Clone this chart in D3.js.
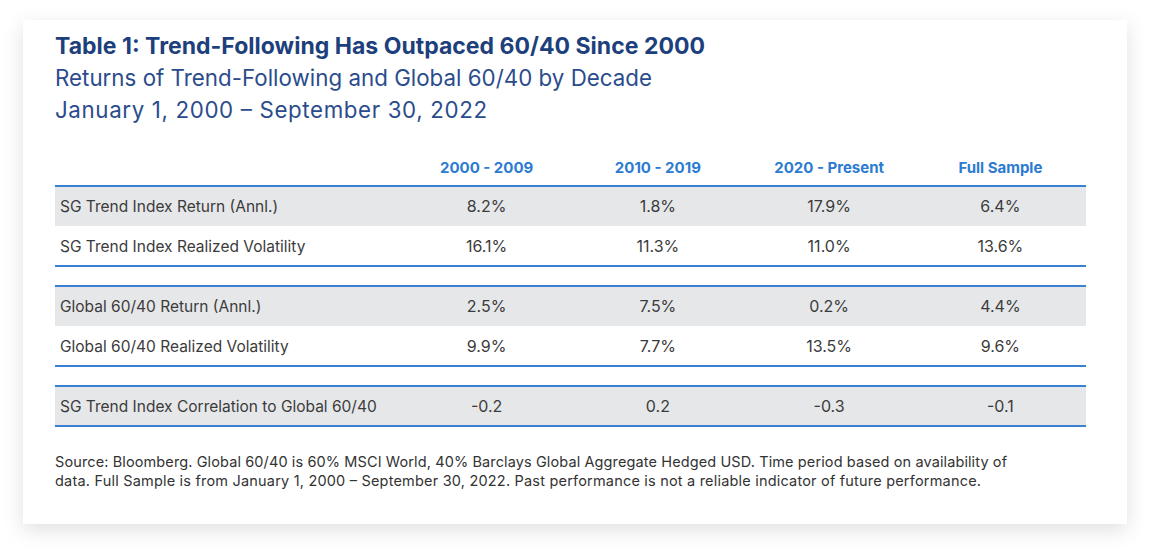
<!DOCTYPE html>
<html><head><meta charset="utf-8">
<script src="https://cdn.jsdelivr.net/npm/d3@7"></script>
<style>
html,body{margin:0;padding:0;background:#ffffff;}
svg{display:block;}
</style></head>
<body>
<div id="chart"></div>
<script>
const titleText = "Table 1: Trend-Following Has Outpaced 60/40 Since 2000";
const subtitleLines = ["Returns of Trend-Following and Global 60/40 by Decade", "January 1, 2000 \u2013 September 30, 2022"];
const columns = ["2000 - 2009", "2010 - 2019", "2020 - Present", "Full Sample"];
const groupA = ["SG Trend Index Return (Annl.)", "SG Trend Index Realized Volatility"];
const groupAValues = [["8.2%", "1.8%", "17.9%", "6.4%"], ["16.1%", "11.3%", "11.0%", "13.6%"]];
const groupB = ["Global 60/40 Return (Annl.)", "Global 60/40 Realized Volatility"];
const groupBValues = [["2.5%", "7.5%", "0.2%", "4.4%"], ["9.9%", "7.7%", "13.5%", "9.6%"]];
const groupC = ["SG Trend Index Correlation to Global 60/40"];
const groupCValues = [["-0.2", "0.2", "-0.3", "-0.1"]];
const footnoteLines = [
  "Source: Bloomberg. Global 60/40 is 60% MSCI World, 40% Barclays Global Aggregate Hedged USD. Time period based on availability of",
  "data. Full Sample is from January 1, 2000 \u2013 September 30, 2022. Past performance is not a reliable indicator of future performance."
];

const W = 1162, H = 559;
const FONT = "Inter, 'Open Sans', sans-serif";
const svg = d3.select("#chart").append("svg").attr("width", W).attr("height", H);

const defs = svg.append("defs");
const f = defs.append("filter").attr("id", "shadow").attr("x", "-10%").attr("y", "-10%").attr("width", "120%").attr("height", "125%");
f.append("feDropShadow").attr("dx", 0).attr("dy", 6).attr("stdDeviation", 10).attr("flood-color", "#000").attr("flood-opacity", 0.12);

// card
svg.append("rect").attr("x", 23).attr("y", 20).attr("width", 1104).attr("height", 504)
  .attr("fill", "#fff").attr("filter", "url(#shadow)");

// fit helper: stretch text spacing to the reference widths
function fit(sel, widths) {
  sel.each(function(d, i) {
    const w = widths[i];
    if (w && this.getComputedTextLength() < w) {
      d3.select(this).attr("textLength", w).attr("lengthAdjust", "spacing");
    }
  });
}

// titles
svg.append("text").attr("x", 55).attr("y", 54).text(titleText)
  .attr("font-family", FONT).attr("font-weight", 700).attr("font-size", 23).attr("fill", "#1d3f7c")
  .call(fit, [650]);
svg.selectAll("text.sub").data(subtitleLines).join("text").attr("class", "sub")
  .attr("x", 55).attr("y", (d, i) => 86 + i * 32).text(d => d)
  .attr("font-family", FONT).attr("font-weight", 400).attr("font-size", 22.3).attr("fill", "#2b4c8c")
  .call(fit, [597, 432]);

// table geometry via scales
const tableLeft = 55, tableRight = 1086, labelColRight = 401;
const x = d3.scaleBand().domain(columns).range([labelColRight, tableRight]);

const groups = [
  {labels: groupA, values: groupAValues},
  {labels: groupB, values: groupBValues},
  {labels: groupC, values: groupCValues}
];
const rowH = 40, gap = 20, top0 = 186;
let rows = [];
let cursor = top0;
const lineYs = [];
groups.forEach((g, gi) => {
  lineYs.push(cursor);
  g.labels.forEach((lab, ri) => {
    rows.push({label: lab, values: g.values[ri], y: cursor, shaded: ri % 2 === 0});
    cursor += rowH;
  });
  lineYs.push(cursor);
  cursor += gap;
});

const tbl = svg.append("g");
tbl.selectAll("rect.band").data(rows.filter(r => r.shaded)).join("rect")
  .attr("x", tableLeft).attr("y", d => d.y).attr("width", tableRight - tableLeft).attr("height", rowH)
  .attr("fill", "#e6e7e9");

// header
tbl.selectAll("text.hdr").data(columns).join("text").attr("class", "hdr")
  .attr("x", d => x(d) + x.bandwidth() / 2).attr("y", 173).attr("text-anchor", "middle").text(d => d)
  .attr("font-family", FONT).attr("font-weight", 700).attr("font-size", 15).attr("fill", "#2b7bd1");

// row labels
tbl.selectAll("text.lab").data(rows).join("text").attr("class", "lab")
  .attr("x", 60).attr("y", d => d.y + 26).text(d => d.label)
  .attr("font-family", FONT).attr("font-size", 15.5).attr("fill", "#3b3b3b");

// values
rows.forEach(r => {
  tbl.selectAll(null).data(r.values).join("text")
    .attr("x", (d, i) => x(columns[i]) + x.bandwidth() / 2).attr("y", r.y + 26)
    .attr("text-anchor", "middle").text(d => d)
    .attr("font-family", FONT).attr("font-size", 16).attr("fill", "#3b3b3b");
});

// lines
tbl.selectAll("line.rule").data(lineYs).join("line").attr("class", "rule")
  .attr("x1", tableLeft).attr("x2", tableRight).attr("y1", d => d).attr("y2", d => d)
  .attr("stroke", "#3a80d2").attr("stroke-width", 2);

// footnote
svg.selectAll("text.fn").data(footnoteLines).join("text").attr("class", "fn")
  .attr("x", 55).attr("y", (d, i) => 467 + i * 18.5).text(d => d)
  .attr("font-family", FONT).attr("font-size", 14.5).attr("fill", "#333")
  .call(fit, [952, 926]);
</script>
</body></html>
